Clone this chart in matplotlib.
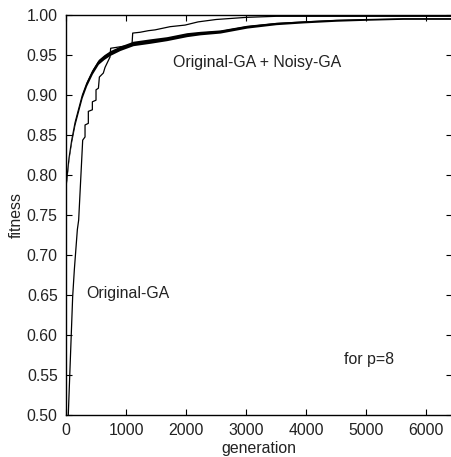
import numpy as np
import matplotlib.pyplot as plt

plt.rcParams['font.family'] = ['Liberation Sans', 'DejaVu Sans']

# Original-GA best fitness (step curve)
orig_gen = [38, 111, 139, 189, 211, 278, 317, 317, 372, 372, 439, 439, 500, 500, 540,
            556, 622, 650, 733, 744, 1000, 1100, 1111, 1233, 1372, 1483, 1733, 1983,
            2200, 2500, 3011, 3500, 6430]
orig_fit = [0.500, 0.648, 0.682, 0.732, 0.744, 0.844, 0.848, 0.863, 0.865, 0.880, 0.882,
            0.892, 0.894, 0.907, 0.909, 0.923, 0.928, 0.935, 0.948, 0.959, 0.962, 0.964,
            0.978, 0.979, 0.981, 0.982, 0.986, 0.988, 0.992, 0.995, 0.9977, 0.999, 0.999]

# Original-GA + Noisy-GA (noisy band): centre and half-width
noisy_gen = [0, 50, 94, 150, 206, 270, 344, 440, 539, 633, 733, 900, 1117, 1400, 1678,
             2011, 2233, 2567, 3011, 3500, 3950, 4500, 5000, 5617, 6430]
noisy_fit = [0.786, 0.822, 0.844, 0.866, 0.882, 0.900, 0.915, 0.930, 0.942, 0.948, 0.953,
             0.959, 0.965, 0.968, 0.971, 0.976, 0.978, 0.980, 0.986, 0.990, 0.992, 0.994,
             0.995, 0.996, 0.996]
noisy_spread = [0.002, 0.002, 0.0025, 0.003, 0.003, 0.003, 0.003, 0.003, 0.003, 0.003, 0.003,
                0.0028, 0.0028, 0.0028, 0.0025, 0.0025, 0.0022, 0.002, 0.0018, 0.0015, 0.0013,
                0.0012, 0.001, 0.0008, 0.0008]

xticks = [0, 1000, 2000, 3000, 4000, 5000, 6000]
yticks = [0.50, 0.55, 0.60, 0.65, 0.70, 0.75, 0.80, 0.85, 0.90, 0.95, 1.00]

fig = plt.figure(figsize=(4.52, 4.57), dpi=100)
ax = fig.add_axes([66/452, 42/457, 386/452, 399.5/457])

nf = np.array(noisy_fit)
ns = np.array(noisy_spread)
ax.fill_between(noisy_gen, nf - ns, nf + ns, color='black', lw=0)
ax.plot(noisy_gen, nf, color='black', lw=0.8)
ax.plot(orig_gen, orig_fit, color='black', lw=0.9)

ax.text(1780, 0.9406, 'Original-GA + Noisy-GA', fontsize=11.4, va='center', color='#222222')
ax.text(330, 0.652, 'Original-GA', fontsize=11.4, va='center', color='#222222')
ax.text(4630, 0.569, 'for p=8', fontsize=11.4, va='center', color='#222222')

ax.set_xlim(0, 6430)
ax.set_ylim(0.5, 1.0)
ax.set_xticks(xticks)
ax.set_yticks(yticks)
ax.set_yticklabels([f'{v:.2f}' for v in yticks])
ax.tick_params(direction='in', length=4, width=0.8, labelsize=11.4, top=True, right=True,
               colors='black', labelcolor='#222222')
ax.tick_params(axis='y', pad=6)
ax.tick_params(axis='x', pad=6)
ax.spines['right'].set_visible(False)
for s in ['left', 'bottom', 'top']:
    ax.spines[s].set_linewidth(1.0)

ax.set_xlabel('generation', fontsize=11.4, labelpad=2, color='#222222')
ax.set_ylabel('fitness', fontsize=11.4, labelpad=2, color='#222222')

fig.savefig('out.png', dpi=100)
